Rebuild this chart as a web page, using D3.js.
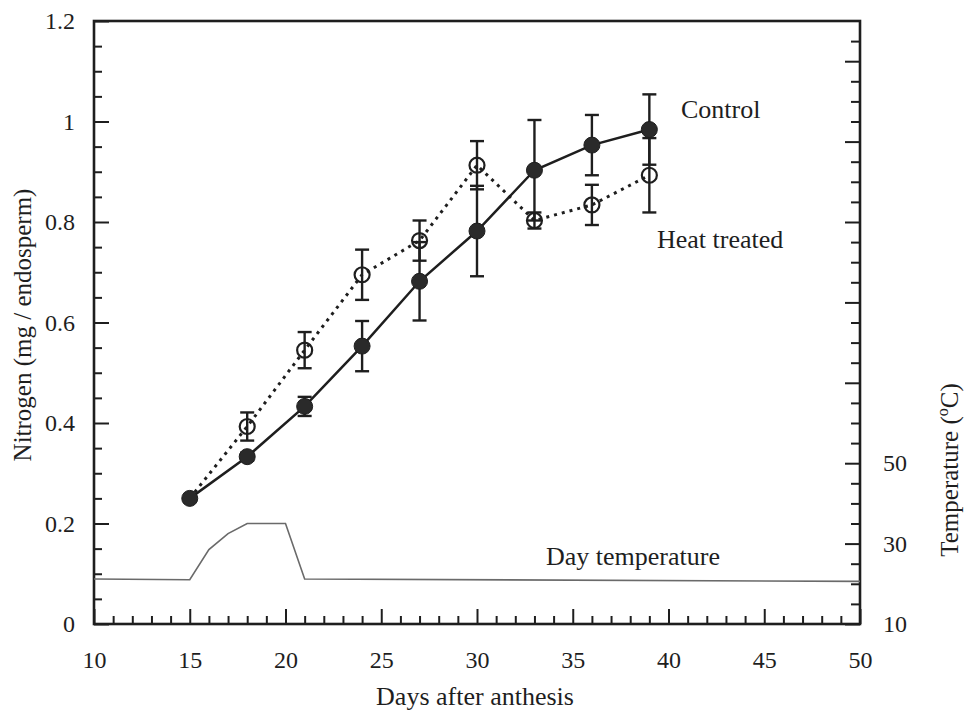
<!DOCTYPE html>
<html>
<head>
<meta charset="utf-8">
<script src="https://cdn.jsdelivr.net/npm/d3@7"></script>
<style>
  html, body { margin: 0; padding: 0; background: #fff; }
  svg text { font-family: "Liberation Serif", "Times New Roman", serif; fill: #1e1e1e; }
</style>
</head>
<body>
<svg id="chart" width="968" height="719"></svg>
<script>
// Sampling days (days after anthesis)
const days = [15, 18, 21, 24, 27, 30, 33, 36, 39];
// Endosperm nitrogen, mg per endosperm
const controlN = [0.25, 0.333, 0.433, 0.553, 0.682, 0.782, 0.903, 0.953, 0.984];
const controlErr = [0, 0.008, 0.019, 0.05, 0.078, 0.09, 0.1, 0.06, 0.07];
const heatN = [0.25, 0.393, 0.545, 0.695, 0.763, 0.913, 0.803, 0.834, 0.893];
const heatErr = [0, 0.028, 0.036, 0.05, 0.04, 0.048, 0.016, 0.04, 0.074];
// Day temperature profile
const tempDays = [10, 15, 16, 17, 18, 20, 21, 50];
const tempC = [21.2, 21, 28.5, 32.5, 35, 35, 21.2, 20.6];
// Axis ticks
const xMajor = [10, 15, 20, 25, 30, 35, 40, 45, 50];
const yMajor = [0, 0.2, 0.4, 0.6, 0.8, 1, 1.2];
const tMajor = [10, 30, 50, 70, 90, 110, 130, 150];
const tLabels = [10, 30, 50];

const L = 94, R = 860, T = 21, B = 624;
const svg = d3.select("#chart");
const serif = "Liberation Serif, Times New Roman, serif";

const x = d3.scaleLinear().domain([10, 50]).range([L, R]);
const y = d3.scaleLinear().domain([0, 1.2]).range([B, T]);
const yt = d3.scaleLinear().domain([10, 160]).range([B, T]);

const ink = "#1e1e1e";

// minor ticks
const xMinor = d3.range(10, 51, 1).filter(d => d % 5 !== 0);
const yMinor = d3.range(0, 1.2001, 0.05).filter(d => Math.abs(d * 5 - Math.round(d * 5)) > 1e-6);
const tMinor = d3.range(10, 160, 5).filter(d => (d - 10) % 20 !== 0);

function styleAxis(g) {
  g.attr("font-family", serif).attr("font-size", 24);
  g.select(".domain").remove();
  g.selectAll(".tick line").attr("stroke", ink).attr("stroke-width", 2);
  g.selectAll(".tick text").attr("font-family", serif).attr("font-size", 24).attr("fill", ink);
}

// x axis
svg.append("g").attr("transform", `translate(0,${B})`)
  .call(d3.axisBottom(x).tickValues(xMajor).tickSize(-15).tickPadding(27).tickFormat(d3.format("d")))
  .call(styleAxis);
svg.append("g").attr("transform", `translate(0,${B})`)
  .call(d3.axisBottom(x).tickValues(xMinor).tickSize(-8).tickFormat(""))
  .call(styleAxis);

// left axis
svg.append("g").attr("transform", `translate(${L},0)`)
  .call(d3.axisLeft(y).tickValues(yMajor).tickSize(-15).tickPadding(19)
    .tickFormat(d => d === 0 ? "0" : String(+d.toFixed(1))))
  .call(styleAxis);
svg.append("g").attr("transform", `translate(${L},0)`)
  .call(d3.axisLeft(y).tickValues(yMinor).tickSize(-8).tickFormat(""))
  .call(styleAxis);

// right (temperature) axis
svg.append("g").attr("transform", `translate(${R},0)`)
  .call(d3.axisRight(yt).tickValues(tMajor).tickSize(-15).tickPadding(23)
    .tickFormat(d => tLabels.includes(d) ? String(d) : ""))
  .call(styleAxis);
svg.append("g").attr("transform", `translate(${R},0)`)
  .call(d3.axisRight(yt).tickValues(tMinor).tickSize(-9).tickFormat(""))
  .call(styleAxis);

// frame
svg.append("rect").attr("x", L).attr("y", T).attr("width", R - L).attr("height", B - T)
  .attr("fill", "none").attr("stroke", ink).attr("stroke-width", 2.6);

// day temperature trace
svg.append("path")
  .datum(tempDays.map((d, i) => [d, tempC[i]]))
  .attr("fill", "none").attr("stroke", "#6a6a6a").attr("stroke-width", 1.6)
  .attr("d", d3.line().x(d => x(d[0])).y(d => yt(d[1])));

const control = days.map((d, i) => ({ d, v: controlN[i], e: controlErr[i] }));
const heat = days.map((d, i) => ({ d, v: heatN[i], e: heatErr[i] }));

// error bars
function errorBars(data) {
  const g = svg.append("g").attr("stroke", ink).attr("stroke-width", 2.4);
  data.filter(p => p.e > 0).forEach(p => {
    const cx = x(p.d), y0 = y(p.v - p.e), y1 = y(p.v + p.e);
    g.append("line").attr("x1", cx).attr("x2", cx).attr("y1", y0).attr("y2", y1);
    g.append("line").attr("x1", cx - 7).attr("x2", cx + 7).attr("y1", y0).attr("y2", y0);
    g.append("line").attr("x1", cx - 7).attr("x2", cx + 7).attr("y1", y1).attr("y2", y1);
  });
}
errorBars(heat);
errorBars(control);

const line = d3.line().x(p => x(p.d)).y(p => y(p.v));

// heat treated (dotted)
svg.append("path").datum(heat)
  .attr("fill", "none").attr("stroke", ink).attr("stroke-width", 3)
  .attr("stroke-dasharray", "3,5").attr("d", line);
// control (solid)
svg.append("path").datum(control)
  .attr("fill", "none").attr("stroke", ink).attr("stroke-width", 2.5).attr("d", line);

svg.append("g").selectAll("circle").data(heat.slice(1)).join("circle")
  .attr("cx", p => x(p.d)).attr("cy", p => y(p.v)).attr("r", 7.5)
  .attr("fill", "none").attr("stroke", ink).attr("stroke-width", 2.2);
svg.append("g").selectAll("circle").data(control).join("circle")
  .attr("cx", p => x(p.d)).attr("cy", p => y(p.v)).attr("r", 8)
  .attr("fill", "#2a2a2a").attr("stroke", ink).attr("stroke-width", 1);

// series labels
svg.append("text").attr("x", 681).attr("y", 118).attr("font-size", 26).text("Control");
svg.append("text").attr("x", 657).attr("y", 248).attr("font-size", 26).text("Heat treated");
svg.append("text").attr("x", 546).attr("y", 565).attr("font-size", 26).text("Day temperature");

// axis titles
svg.append("text").attr("x", 475).attr("y", 705).attr("text-anchor", "middle")
  .attr("font-size", 26).text("Days after anthesis");
svg.append("text").attr("transform", "translate(31,325) rotate(-90)").attr("text-anchor", "middle")
  .attr("font-size", 25).text("Nitrogen (mg / endosperm)");
const rt = svg.append("text").attr("transform", "translate(958,470) rotate(-90)")
  .attr("text-anchor", "middle").attr("font-size", 25);
rt.append("tspan").text("Temperature (");
rt.append("tspan").attr("font-size", 16).attr("dy", -10).text("o");
rt.append("tspan").attr("dy", 10).text("C)");
</script>
</body>
</html>
